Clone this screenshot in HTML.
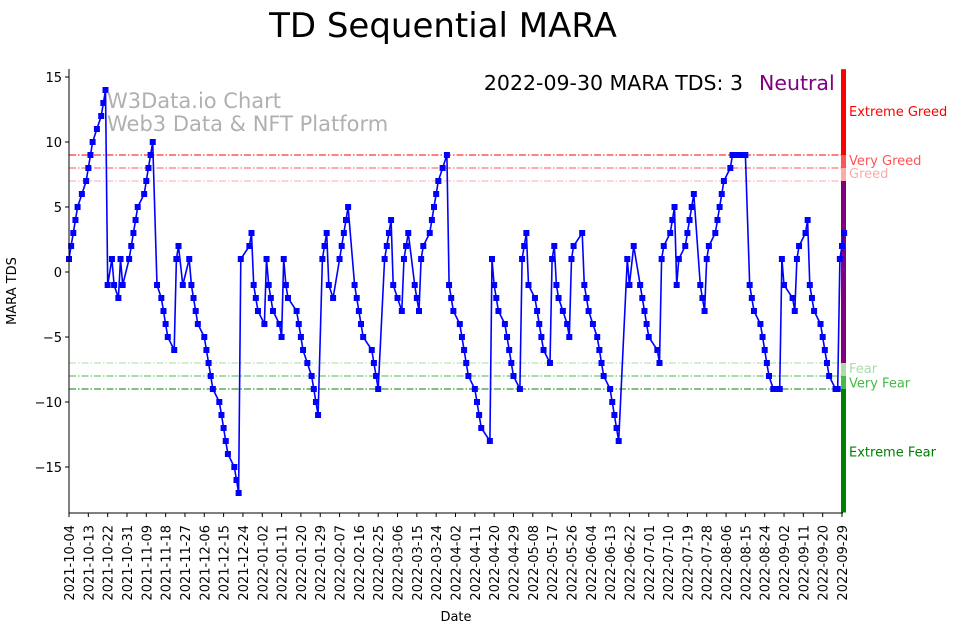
<!DOCTYPE html>
<html><head><meta charset="utf-8"><style>
body{margin:0;background:#fff;}
svg{display:block;font-family:"DejaVu Sans","Liberation Sans",sans-serif;}
</style></head><body>
<svg id="chart" width="962" height="633" viewBox="0 0 962 633">
<text x="443" y="37" font-size="34" text-anchor="middle">TD Sequential MARA</text>
<g id="grid"></g>
<g id="series"></g>
<g id="axes"></g>
<text x="107" y="108" font-size="21" fill="#b0b0b0">W3Data.io Chart</text>
<text x="107" y="131" font-size="21" fill="#b0b0b0">Web3 Data &amp; NFT Platform</text>
<text x="743" y="90" font-size="20.5" text-anchor="end">2022-09-30 MARA TDS: 3</text>
<text x="759" y="90" font-size="20.5" fill="#800080">Neutral</text>
<text x="16" y="291" font-size="13" text-anchor="middle" transform="rotate(-90 16 291)">MARA TDS</text>
<text x="456" y="621" font-size="13" text-anchor="middle">Date</text>
</svg>
<script>
const dayOffsets=[0,1,2,3,4,6,8,9,10,11,13,15,16,17,18,20,21,23,24,25,28,29,30,31,32,35,36,37,38,39,41,43,44,45,46,49,50,51,53,56,57,58,59,60,63,64,65,66,67,70,71,72,73,74,77,78,79,80,84,85,86,87,88,91,92,93,94,95,98,99,100,101,102,106,107,108,109,111,113,114,115,116,118,119,120,121,123,126,127,128,129,130,133,134,135,136,137,141,142,143,144,147,148,149,150,151,153,155,156,157,158,161,162,163,164,165,168,169,170,171,172,174,176,177,178,179,182,183,184,185,186,189,190,191,192,196,197,198,199,200,203,204,205,206,207,210,211,212,213,214,217,218,219,220,221,224,225,226,227,228,230,232,233,234,235,239,240,241,242,244,246,247,248,249,252,253,254,255,256,260,261,263,266,267,268,269,270,274,275,276,277,280,281,282,283,284,287,288,289,290,291,294,295,296,297,298,301,302,303,304,305,308,309,310,311,312,313,315,317,318,319,322,323,324,325,326,328,330,331,332,333,337,338,339,340,343,344,345,346,347,350,351,352,353,354,357,358,359,360,361];
const tdsValues=[1,2,3,4,5,6,7,8,9,10,11,12,13,14,-1,1,-1,-2,1,-1,1,2,3,4,5,6,7,8,9,10,-1,-2,-3,-4,-5,-6,1,2,-1,1,-1,-2,-3,-4,-5,-6,-7,-8,-9,-10,-11,-12,-13,-14,-15,-16,-17,1,2,3,-1,-2,-3,-4,1,-1,-2,-3,-4,-5,1,-1,-2,-3,-4,-5,-6,-7,-8,-9,-10,-11,1,2,3,-1,-2,1,2,3,4,5,-1,-2,-3,-4,-5,-6,-7,-8,-9,1,2,3,4,-1,-2,-3,1,2,3,-1,-2,-3,1,2,3,4,5,6,7,8,9,-1,-2,-3,-4,-5,-6,-7,-8,-9,-10,-11,-12,-13,1,-1,-2,-3,-4,-5,-6,-7,-8,-9,1,2,3,-1,-2,-3,-4,-5,-6,-7,1,2,-1,-2,-3,-4,-5,1,2,3,-1,-2,-3,-4,-5,-6,-7,-8,-9,-10,-11,-12,-13,1,-1,2,-1,-2,-3,-4,-5,-6,-7,1,2,3,4,5,-1,1,2,3,4,5,6,-1,-2,-3,1,2,3,4,5,6,7,8,9,9,9,9,9,9,-1,-2,-3,-4,-5,-6,-7,-8,-9,-9,-9,1,-1,-2,-3,1,2,3,4,-1,-2,-3,-4,-5,-6,-7,-8,-9,-9,1,2,3];
const xTickLabels=["2021-10-04","2021-10-13","2021-10-22","2021-10-31","2021-11-09","2021-11-18","2021-11-27","2021-12-06","2021-12-15","2021-12-24","2022-01-02","2022-01-11","2022-01-20","2022-01-29","2022-02-07","2022-02-16","2022-02-25","2022-03-06","2022-03-15","2022-03-24","2022-04-02","2022-04-11","2022-04-20","2022-04-29","2022-05-08","2022-05-17","2022-05-26","2022-06-04","2022-06-13","2022-06-22","2022-07-01","2022-07-10","2022-07-19","2022-07-28","2022-08-06","2022-08-15","2022-08-24","2022-09-02","2022-09-11","2022-09-20","2022-09-29"];
const yTickValues=[15,10,5,0,-5,-10,-15];
const levelValues=[9,8,7,-7,-8,-9];
const levelColors=["#ff0000","#ff5555","#ffaaaa","#aaddaa","#44bb44","#008000"];
const zoneNames=["Extreme Greed","Very Greed","Greed","Fear","Very Fear","Extreme Fear"];
const zoneLabelValues=[12.4,8.6,7.6,-7.4,-8.5,-13.8];

const NS="http://www.w3.org/2000/svg";
const X0=69,X1=843,Y0=69,Y1=513;
function xs(d){return X0+d*(773/360);}
function ys(v){return 272-13*v;}
function mk(tag,attrs,parent){const e=document.createElementNS(NS,tag);for(const k in attrs)e.setAttribute(k,attrs[k]);parent.appendChild(e);return e;}
const grid=document.getElementById('grid'),series=document.getElementById('series'),axes=document.getElementById('axes');

levelValues.forEach((v,i)=>{
  const l=mk('line',{x1:X0,x2:X1,y1:ys(v),y2:ys(v),stroke:levelColors[i],'stroke-width':1,'stroke-dasharray':'7,2,1.5,2'},grid);
  
  
  const t=mk('text',{x:849,y:ys(zoneLabelValues[i])+5,'font-size':13,fill:levelColors[i]},grid);
  t.textContent=zoneNames[i];
  
  
});
const bands=[[15.6,9,"#ff0000"],[9,8,"#ff5555"],[8,7,"#ffaaaa"],[7,-7,"#800080"],[-7,-8,"#aaddaa"],[-8,-9,"#44bb44"],[-9,-18.5,"#008000"]];
bands.forEach(b=>{
  const r=mk('rect',{x:841,y:ys(b[0]),width:5,height:ys(b[1])-ys(b[0]),fill:b[2]},grid);
  
  
});

let pts=dayOffsets.map((d,i)=>xs(d).toFixed(1)+','+ys(tdsValues[i]).toFixed(1)).join(' ');
const pl=mk('polyline',{points:pts,fill:'none',stroke:'#0000ff','stroke-width':1.6},series);


dayOffsets.forEach((d,i)=>{
  const r=mk('rect',{x:xs(d)-3,y:ys(tdsValues[i])-3,width:6,height:6,fill:'#0000ff'},series);
  
  
});

mk('line',{x1:X0,x2:X0,y1:Y0,y2:Y1,stroke:'#000','stroke-width':1},axes);
mk('line',{x1:X0,x2:X1,y1:Y1,y2:Y1,stroke:'#000','stroke-width':1},axes);
yTickValues.forEach(v=>{
  mk('line',{x1:X0-4,x2:X0,y1:ys(v),y2:ys(v),stroke:'#000'},axes);
  const t=mk('text',{x:X0-7,y:ys(v)+5,'font-size':13,'text-anchor':'end'},axes);
  t.textContent=String(v).replace('-','\u2212');
  
  
});
xTickLabels.forEach((s,i)=>{
  const x=xs(i*9);
  mk('line',{x1:x,x2:x,y1:Y1,y2:Y1+4,stroke:'#000'},axes);
  const t=mk('text',{x:x+5,y:Y1+12,'font-size':13,'text-anchor':'end',transform:'rotate(-90 '+(x+5)+' '+(Y1+12)+')'},axes);
  t.textContent=s;
  
  
});
</script>
</body></html>
